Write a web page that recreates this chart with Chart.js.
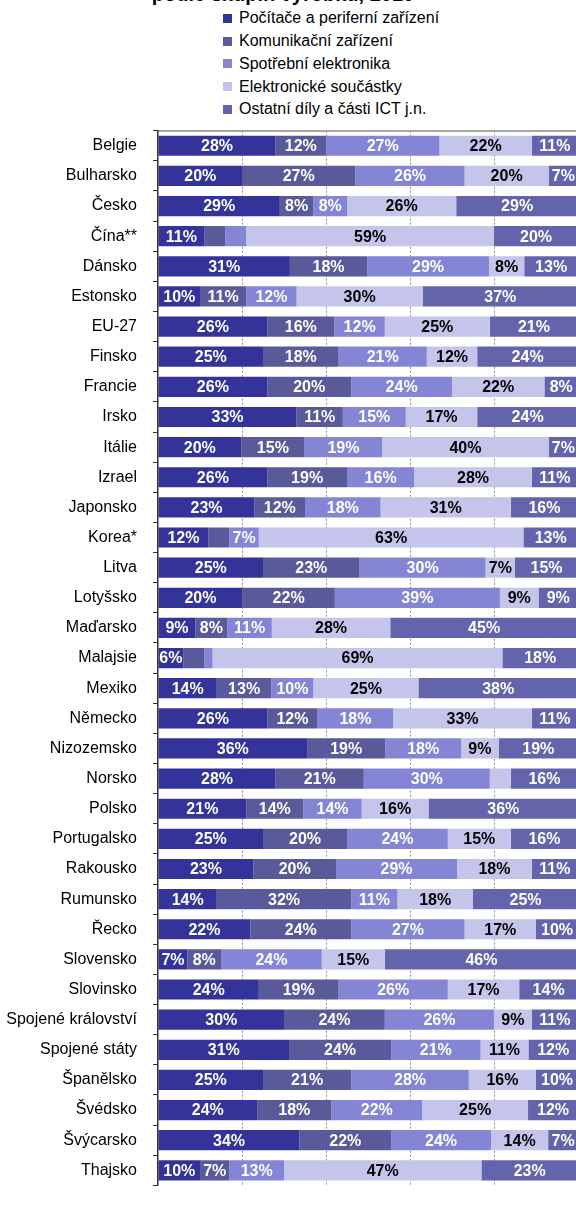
<!DOCTYPE html>
<html lang="cs">
<head>
<meta charset="utf-8">
<title>Produkce ICT podle skupin výrobků, 2010</title>
<script src="https://cdn.jsdelivr.net/npm/chart.js@4.4.1/dist/chart.umd.min.js"></script>
<style>
  html, body { margin: 0; padding: 0; background: #fff; overflow: hidden; }
  body { width: 576px; height: 1205px; position: relative; font-family: "Liberation Sans", Arial, sans-serif; }
  #title { position: absolute; left: 0; top: -16px; width: 566px; text-align: center; font-weight: bold; font-size: 20px; line-height: 20px; white-space: nowrap; }
  #legend { position: absolute; left: 223px; top: 7px; margin: 0; padding: 0; list-style: none; }
  #legend li { height: 22.75px; display: flex; align-items: center; font-size: 16px; color: #000; white-space: nowrap; }
  #legend .box { width: 9px; height: 9px; margin-right: 7px; flex: none; }
  #chart { position: absolute; left: 0; top: 0; }
</style>
</head>
<body>
<div id="title">podle skupin výrobků, 2010</div>
<ul id="legend"></ul>
<canvas id="chart" width="580" height="1211"></canvas>
<script>
// Shares (%) of ICT production by product group; labels show the rounded share
const countries = [
  'Belgie', 'Bulharsko', 'Česko', 'Čína**', 'Dánsko', 'Estonsko', 'EU-27', 'Finsko',
  'Francie', 'Irsko', 'Itálie', 'Izrael', 'Japonsko', 'Korea*', 'Litva', 'Lotyšsko',
  'Maďarsko', 'Malajsie', 'Mexiko', 'Německo', 'Nizozemsko', 'Norsko', 'Polsko',
  'Portugalsko', 'Rakousko', 'Rumunsko', 'Řecko', 'Slovensko', 'Slovinsko',
  'Spojené království', 'Spojené státy', 'Španělsko', 'Švédsko', 'Švýcarsko', 'Thajsko'
];

const pocitace    = [28, 20, 29, 11, 31.4, 10, 26, 25, 26, 33, 19.8, 26, 23, 12, 25, 20.1, 8.9, 6, 14, 26, 35.5, 28, 21.0, 25, 22.7, 14, 22, 7, 24, 30, 31.2, 25, 23.6, 33.7, 10];
const komunikacni = [12, 27, 8, 5, 18.4, 11, 16, 18, 20, 11, 15.1, 19, 12, 5, 23, 22.0, 7.6, 5, 13, 12, 18.6, 21, 13.6, 20, 19.7, 32, 24, 8, 19, 24, 24.3, 21, 17.7, 21.8, 7];
const spotrebni   = [27, 26, 8, 5, 29.0, 12, 12, 21, 24, 15, 18.5, 16, 18, 7, 30, 39.3, 10.6, 2, 10, 18, 18.1, 30, 13.9, 24, 28.8, 11, 27, 24, 26, 26, 21.3, 28, 21.6, 23.8, 13];
const soucastky   = [22, 20, 26, 59, 8.4, 30, 25, 12, 22, 17, 39.6, 28, 31, 63, 7, 9.2, 28.2, 69, 25, 33, 8.9, 5, 15.9, 15, 17.8, 18, 17, 15, 17, 9, 11.4, 16, 25.2, 13.6, 47];
const ostatni     = [11, 7, 29, 20, 12.8, 37, 21, 24, 8, 24, 7.0, 11, 16, 13, 15, 9.4, 44.7, 18, 38, 11, 18.9, 16, 35.6, 16, 11.0, 25, 10, 46, 14, 11, 11.8, 10, 11.9, 7.1, 23];

const seriesNames = [
  'Počítače a periferní zařízení',
  'Komunikační zařízení',
  'Spotřební elektronika',
  'Elektronické součástky',
  'Ostatní díly a části ICT j.n.'
];
const xTickValues = [0, 20, 40, 60, 80, 100];

const palette = ['#333399', '#5A5A9A', '#8585D6', '#C5C5EB', '#6464AC'];
const FONT = '"Liberation Sans", Arial, sans-serif';

// write the value into each segment (small ones stay blank)
const segmentLabels = {
  id: 'segmentLabels',
  afterDatasetsDraw(chart) {
    const ctx = chart.ctx;
    ctx.save();
    ctx.font = 'bold 16px ' + FONT;
    ctx.textAlign = 'center';
    ctx.textBaseline = 'middle';
    chart.data.datasets.forEach((ds, i) => {
      chart.getDatasetMeta(i).data.forEach((bar, j) => {
        const v = Math.round(ds.data[j]);
        if (v < 6) return;
        ctx.fillStyle = i === 3 ? '#000' : '#fff';
        ctx.fillText(v + '%', (bar.x + bar.base) / 2, bar.y + 1);
      });
    });
    ctx.restore();
  }
};

const seriesData = [pocitace, komunikacni, spotrebni, soucastky, ostatni];

const chart = new Chart(document.getElementById('chart'), {
  type: 'bar',
  data: {
    labels: countries,
    datasets: seriesNames.map((name, i) => ({
      label: name,
      data: seriesData[i],
      backgroundColor: palette[i],
      borderWidth: 0,
      barPercentage: 0.67,
      categoryPercentage: 1
    }))
  },
  options: {
    indexAxis: 'y',
    responsive: false,
    animation: false,
    layout: { padding: { top: 130.7, right: 2, bottom: 2, left: 0 } },
    plugins: {
      legend: { display: false },
      title: { display: false },
      tooltip: { enabled: false }
    },
    scales: {
      x: {
        stacked: true,
        min: 0,
        max: 100,
        afterBuildTicks: scale => { scale.ticks = xTickValues.map(v => ({ value: v })); },
        ticks: { display: false },
        grid: {
          drawTicks: false,
          lineWidth: 1,
          color: ctx => (ctx.tick && (ctx.tick.value === 0 || ctx.tick.value === 100)) ? 'rgba(0,0,0,0)' : '#8c8c8c'
        },
        border: { display: false, dash: [2, 2] }
      },
      xTop: {
        axis: 'x',
        position: 'top',
        min: 0,
        max: 100,
        ticks: { display: false },
        grid: { display: false, drawTicks: false },
        border: { display: true, color: '#a6a6a6', width: 2 }
      },
      y: {
        stacked: true,
        afterFit: scale => { scale.width = 158; },
        ticks: {
          color: '#000',
          padding: 16,
          font: { family: FONT, size: 16 }
        },
        grid: {
          offset: true,
          drawOnChartArea: false,
          tickLength: 5,
          color: '#333'
        },
        border: { color: '#333', width: 1.5, z: 1 }
      }
    }
  },
  plugins: [segmentLabels]
});

// legend list built from the datasets
const legendEl = document.getElementById('legend');
chart.data.datasets.forEach(ds => {
  const li = document.createElement('li');
  const box = document.createElement('span');
  box.className = 'box';
  box.style.background = ds.backgroundColor;
  li.appendChild(box);
  li.appendChild(document.createTextNode(ds.label));
  legendEl.appendChild(li);
});
</script>
</body>
</html>
